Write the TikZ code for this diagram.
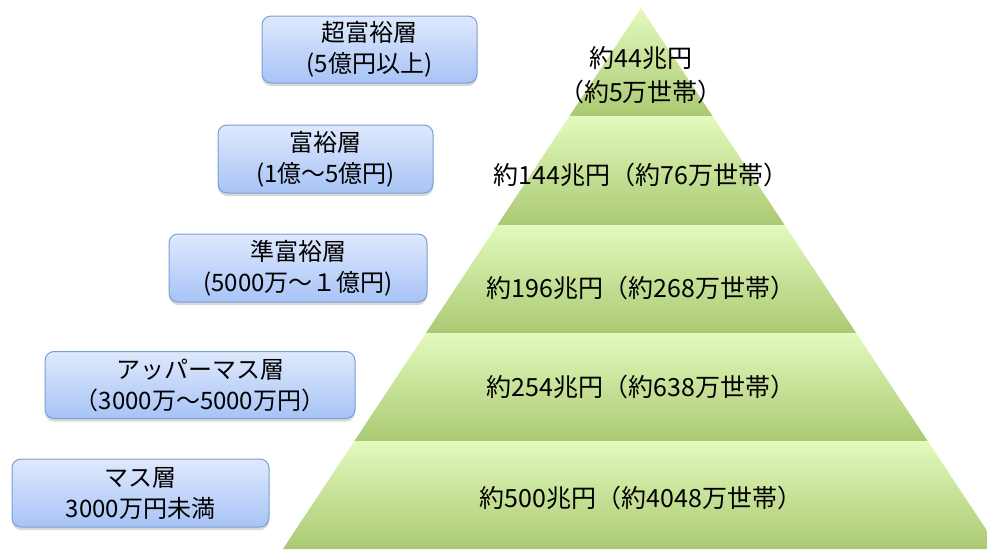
\documentclass[tikz,border=0pt]{standalone}
\usepackage{fontspec}
\setmainfont{Noto Sans CJK JP}
\usetikzlibrary{shadows}
\definecolor{bandtop}{HTML}{E3FABD}
\definecolor{bandbot}{HTML}{ABC973}
\definecolor{boxtop}{HTML}{DFE9FD}
\definecolor{boxbot}{HTML}{A7C3F6}
\definecolor{boxline}{HTML}{7C9ED2}
\tikzset{
  tier/.style={draw=boxline, line width=1pt, rounded corners=9pt, top color=boxtop, bottom color=boxbot,
    inner sep=0pt, align=center, font=\fontsize{24}{31}\selectfont,
    drop shadow={shadow xshift=0pt, shadow yshift=-3pt, opacity=0.25, fill=black!60}},
  band/.style={top color=bandtop, bottom color=bandbot},
  amount/.style={inner sep=0pt, align=center, font=\fontsize{25}{34}\selectfont}
}
\begin{document}
\begin{tikzpicture}[x=1pt,y=-1pt]
\useasboundingbox (0,0) rectangle (987,549);
\clip (0,0) rectangle (987,549);
\def\ax{641}\def\ay{8}\def\sl{0.662}
% bands
\foreach \t/\b in {8/116, 116/225, 225/333, 333/441, 441/549}{
  \pgfmathsetmacro{\lt}{\ax-\sl*(\t-\ay)}
  \pgfmathsetmacro{\rt}{\ax+\sl*(\t-\ay)}
  \pgfmathsetmacro{\lb}{\ax-\sl*(\b-\ay)}
  \pgfmathsetmacro{\rb}{\ax+\sl*(\b-\ay)}
  \shade[band] (\lt,\t) -- (\rt,\t) -- (\rb,\b) -- (\lb,\b) -- cycle;
}
% amounts
\node[amount] (a1) at (641,75) {約44兆円\\（約5万世帯）};
\node[amount] (a2) at (641,175) {約144兆円（約76万世帯）};
\node[amount] (a3) at (641,288) {約196兆円（約268万世帯）};
\node[amount] (a4) at (641,387) {約254兆円（約638万世帯）};
\node[amount] (a5) at (641,498) {約500兆円（約4048万世帯）};
% tier boxes
\node[tier, minimum width=215pt, minimum height=67pt] (t1) at (369.5,49.5) {超富裕層\\(5億円以上)};
\node[tier, minimum width=215pt, minimum height=68pt] (t2) at (325.5,159) {富裕層\\(1億～5億円)};
\node[tier, minimum width=258pt, minimum height=68pt] (t3) at (298,268) {準富裕層\\(5000万～１億円)};
\node[tier, minimum width=310pt, minimum height=67pt] (t4) at (200,385) {アッパーマス層\\（3000万～5000万円）};
\node[tier, minimum width=257pt, minimum height=68pt] (t5) at (140.5,493) {マス層\\3000万円未満};
\end{tikzpicture}
\end{document}
